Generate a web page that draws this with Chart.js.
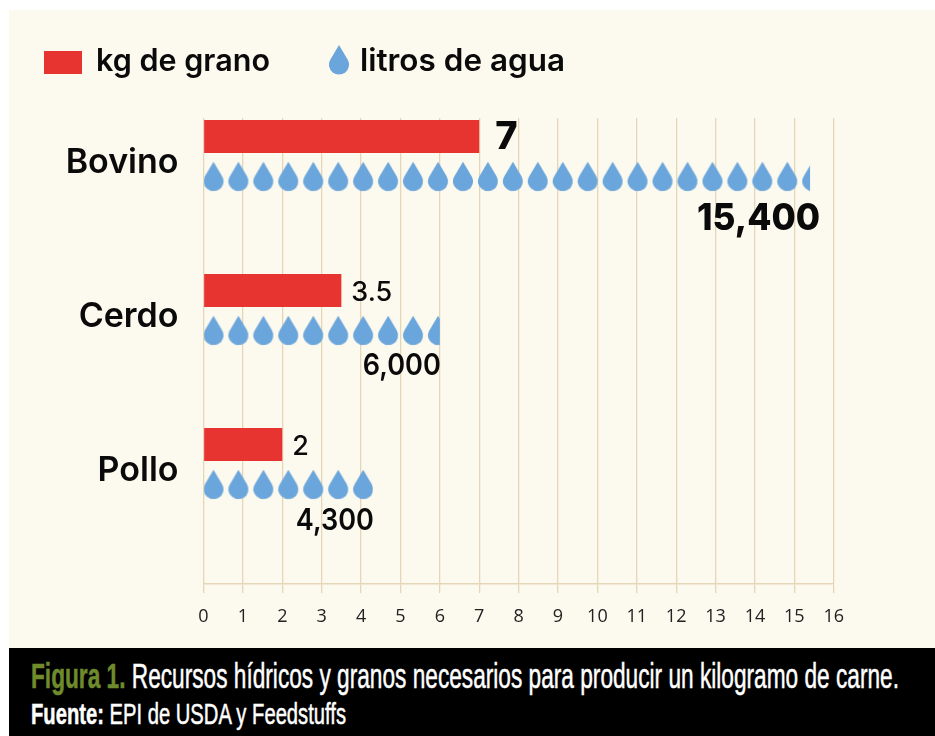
<!DOCTYPE html>
<html lang="es"><head><meta charset="utf-8">
<script src="https://cdn.jsdelivr.net/npm/chart.js@4/dist/chart.umd.min.js"></script>
<style>
html,body{margin:0;padding:0;background:#fff;width:935px;height:736px;overflow:hidden}
#panel{position:absolute;left:9px;top:10px;width:926px;height:638px;background:#fcf9ee}
#wrap{position:absolute;left:0;top:0;width:935px;height:648px}
#bar{position:absolute;left:9px;top:648px;width:926px;height:88px;background:#000}
.leg{position:absolute;font:600 31px Inter,sans-serif;color:#0a0a0a;white-space:nowrap;line-height:36px;top:42px;transform-origin:0 50%}
.cap{position:absolute;left:31px;font-family:"Liberation Sans Narrow","Liberation Sans",sans-serif;white-space:nowrap;transform-origin:0 50%;color:#fff;-webkit-text-stroke:0.5px currentColor}
.cap b{font-weight:700}
</style></head><body>
<div id="panel"></div>
<div id="wrap"><canvas id="c" width="935" height="648"></canvas></div>
<div style="position:absolute;left:44px;top:51px;width:38px;height:23px;background:#e83431"></div>
<div class="leg" data-w="174" style="left:96px">kg de grano</div>
<svg style="position:absolute;left:329px;top:45px" width="20" height="30" viewBox="0 0 20 30"><path fill="#6aa5db" d="M10 0L18.6 14.4A10 10 0 1 1 1.4 14.4Z"/></svg>
<div class="leg" data-w="205" style="left:360px">litros de agua</div>
<div id="bar"></div>
<div class="cap" id="l1" data-w="868" style="top:656px;font-size:35px;line-height:40px"><b style="color:#6f8b2c">Figura 1.</b> Recursos hídricos y granos necesarios para producir un kilogramo de carne.</div>
<div class="cap" id="l2" data-w="315" style="top:697px;font-size:29px;line-height:34px"><b>Fuente:</b> EPI de USDA y Feedstuffs</div>
<script>
const categories = ['Bovino', 'Cerdo', 'Pollo'];
const grainKg = [7, 3.5, 2];
const waterLitres = [15400, 6000, 4300];
const grainLabels = ['7', '3.5', '2'];
const waterLabels = ['15,400', '6,000', '4,300'];
const xTicks = [0, 1, 2, 3, 4, 5, 6, 7, 8, 9, 10, 11, 12, 13, 14, 15, 16];

const RED = '#e83431', BLUE = '#6aa5db', GRID = '#e6d6b8';
const DROPS = 10, PITCH = 24.95;

document.querySelectorAll('.cap,.leg').forEach(el => {
  const w = el.getBoundingClientRect().width;
  el.style.transform = 'scaleX(' + (+el.dataset.w / w) + ')';
});

function dropTile(rowPx) {
  const t = document.createElement('canvas');
  t.width = 250; t.height = Math.max(30, Math.round(rowPx));
  const g = t.getContext('2d');
  g.fillStyle = BLUE;
  for (let i = 0; i < DROPS; i++) {
    const l = i * 25;
    g.beginPath();
    g.moveTo(l + 10, 0);
    g.arc(l + 10, 19.5, 10, -0.538, Math.PI + 0.538);
    g.closePath();
    g.fill();
  }
  return t;
}
let dropPattern = null;
function waterFill(ctx) {
  const { scales, ctx: c, chartArea } = ctx.chart;
  if (!chartArea || !scales.x || !scales.y) return BLUE;
  const row = scales.y.getPixelForValue(1) - scales.y.getPixelForValue(0);
  if (!Number.isFinite(row) || row <= 0) return BLUE;
  if (!dropPattern) {
    dropPattern = c.createPattern(dropTile(row), 'repeat');
    dropPattern.setTransform(new DOMMatrix()
      .translate(scales.x.getPixelForValue(0), scales.y.getPixelForValue(0) + 5.25)
      .scale(PITCH / 25, 1));
  }
  return dropPattern;
}

const valueLabels = {
  id: 'valueLabels',
  afterDatasetsDraw(chart) {
    const c = chart.ctx;
    c.save();
    c.fillStyle = '#0a0a0a';
    c.textBaseline = 'middle';
    chart.getDatasetMeta(0).data.forEach((el, i) => {
      c.textAlign = 'left';
      c.font = i === 0 ? '800 38px Inter, sans-serif' : '500 27px Inter, sans-serif';
      c.fillText(grainLabels[i], el.x + (i === 0 ? 16 : 10), el.y + (i === 0 ? 1 : 2));
    });
    chart.getDatasetMeta(1).data.forEach((el, i) => {
      c.textAlign = 'right';
      c.font = i === 0 ? '800 37px Inter, sans-serif' : '600 30px Inter, sans-serif';
      c.fillText(waterLabels[i], el.x + (i === 0 ? 10 : 1), el.y + [42, 36, 37][i], i === 0 ? 123 : 78);
    });
    c.restore();
  }
};

new Chart(document.getElementById('c'), {
  type: 'bar',
  plugins: [valueLabels],
  data: {
    datasets: [
      { label: 'kg de grano', data: grainKg.map((v, i) => ({ x: v, y: i })),
        backgroundColor: RED, barPercentage: 0.825, categoryPercentage: 0.519 },
      { label: 'litros de agua', data: waterLitres.map((v, i) => ({ x: v / 1000, y: i })),
        backgroundColor: waterFill, barPercentage: 0.7375, categoryPercentage: 0.519 }
    ]
  },
  options: {
    indexAxis: 'y',
    responsive: false,
    animation: false,
    layout: { padding: { top: 118, right: 101.3, bottom: 24, left: 0 } },
    plugins: { legend: { display: false }, tooltip: { enabled: false }, title: { display: false } },
    scales: {
      x: {
        type: 'linear', position: 'bottom', min: 0, max: 16,
        afterBuildTicks(s) { s.ticks = xTicks.map(v => ({ value: v })); },
        afterFit(s) { s.height = 40; },
        grid: { color: GRID, lineWidth: 1.3, tickLength: 9, tickColor: GRID, drawTicks: true },
        border: { display: true, color: GRID, width: 1.5 },
        ticks: { autoSkip: false, maxRotation: 0, padding: 13, color: '#222',
                 font: { family: '"Open Sans", sans-serif', size: 18 } }
      },
      y: {
        type: 'linear', reverse: true, offset: false, min: -0.25, max: 2.776,
        afterBuildTicks(s) { s.ticks = categories.map((_, i) => ({ value: i })); },
        afterFit(s) { s.width = 203.5; },
        grid: { display: false, drawTicks: false, offset: false },
        border: { display: false },
        ticks: { padding: 25, labelOffset: 6, color: '#0a0a0a',
                 callback: v => categories[v],
                 font: { family: 'Inter, sans-serif', size: 34, weight: '600' } }
      }
    }
  }
});
</script>
</body></html>
